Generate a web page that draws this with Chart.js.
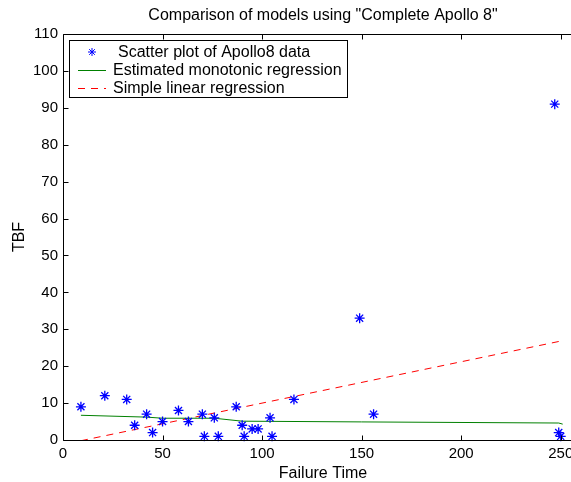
<!DOCTYPE html>
<html lang="en">
<head>
  <meta charset="UTF-8">
  <title>Comparison of models using "Complete Apollo 8"</title>
  <script src="https://cdn.jsdelivr.net/npm/chart.js"></script>
  <style>
    body { margin: 0; padding: 0; background: #fff; }
    #wrap { width: 571px; height: 482px; }
  </style>
</head>
<body>
  <div id="wrap"><canvas id="chart" width="571" height="482"></canvas></div>

  <script>
    // Apollo 8 data
    const failureTime = [9, 21, 32, 36, 42, 45, 50, 58, 63, 70, 71, 76, 78, 87, 90, 91, 95, 98, 104, 105, 116, 149, 156, 247, 249, 250];
    const tbf = [9, 12, 11, 4, 7, 2, 5, 8, 5, 7, 1, 6, 1, 9, 4, 1, 3, 3, 6, 1, 11, 33, 7, 91, 2, 1];

    // monotonic regression estimate
    const monoX = [9, 42, 50, 76, 90, 150, 249, 251];
    const monoY = [6.7, 6.2, 5.9, 5.9, 5.1, 4.9, 4.6, 4.3];

    // simple linear regression
    const linX = [9, 250];
    const linY = [-0.2, 26.8];

    const xTicks = [0, 50, 100, 150, 200, 250];
    const yTicks = [0, 10, 20, 30, 40, 50, 60, 70, 80, 90, 100, 110];

    const FONT = 'Arial, "Liberation Sans", sans-serif';
    const CENTER_X = 323; // the axes run past the right edge of the picture

    const toXY = (xs, ys) => xs.map((x, i) => ({ x: x, y: ys[i] }));

    const matlabFrame = {
      id: 'matlabFrame',
      afterDraw(chart) {
        const ctx = chart.ctx;
        const a = chart.chartArea;
        const sx = chart.scales.x, sy = chart.scales.y;
        ctx.save();
        ctx.strokeStyle = '#000';
        ctx.lineWidth = 1;
        const L = Math.round(a.left) + 0.5, T = Math.round(a.top) + 0.5, B = Math.round(a.bottom) + 0.5;
        ctx.beginPath();
        ctx.moveTo(L, T); ctx.lineTo(chart.width, T);
        ctx.moveTo(L, T); ctx.lineTo(L, B); ctx.lineTo(chart.width, B);
        // inner ticks
        xTicks.forEach(v => {
          const px = Math.round(sx.getPixelForValue(v)) + 0.5;
          ctx.moveTo(px, B); ctx.lineTo(px, B - 5);
          ctx.moveTo(px, T); ctx.lineTo(px, T + 5);
        });
        yTicks.forEach(v => {
          const py = Math.round(sy.getPixelForValue(v)) + 0.5;
          ctx.moveTo(L, py); ctx.lineTo(L + 5, py);
        });
        ctx.stroke();

        // title and axis titles
        ctx.fillStyle = '#000';
        ctx.font = '16px ' + FONT;
        ctx.textAlign = 'center';
        ctx.textBaseline = 'middle';
        ctx.fillText('Comparison of models using "Complete Apollo 8"', CENTER_X, 16);
        ctx.fillText('Failure Time', CENTER_X, 474);
        ctx.save();
        ctx.translate(20, (a.top + a.bottom) / 2);
        ctx.rotate(-Math.PI / 2);
        ctx.fillText('TBF', 0, 0);
        ctx.restore();

        // legend box
        const lx = 69.5, ly = 40.5, lw = 278, lh = 57;
        ctx.fillStyle = '#fff';
        ctx.fillRect(lx, ly, lw, lh);
        ctx.strokeRect(lx, ly, lw, lh);
        ctx.font = '16px ' + FONT;
        ctx.textAlign = 'left';
        ctx.fillStyle = '#000';
        const rows = [52, 70, 88];
        // star marker
        ctx.strokeStyle = '#0000ff';
        ctx.beginPath();
        const cx = 92, cy = rows[0], r = 4;
        for (let k = 0; k < 4; k++) {
          const ang = k * Math.PI / 4;
          ctx.moveTo(cx - r * Math.cos(ang), cy - r * Math.sin(ang));
          ctx.lineTo(cx + r * Math.cos(ang), cy + r * Math.sin(ang));
        }
        ctx.stroke();
        ctx.fillText('Scatter plot of Apollo8 data', 118, rows[0] + 1);
        ctx.strokeStyle = '#008000';
        ctx.beginPath(); ctx.moveTo(78, rows[1] + 0.5); ctx.lineTo(106, rows[1] + 0.5); ctx.stroke();
        ctx.fillText('Estimated monotonic regression', 113, rows[1] + 1);
        ctx.strokeStyle = '#ff0000';
        ctx.setLineDash([7, 6]);
        ctx.beginPath(); ctx.moveTo(78, rows[2] + 0.5); ctx.lineTo(106, rows[2] + 0.5); ctx.stroke();
        ctx.setLineDash([]);
        ctx.fillText('Simple linear regression', 113, rows[2] + 1);
        ctx.restore();
      }
    };

    new Chart(document.getElementById('chart'), {
      type: 'scatter',
      data: {
        datasets: [
          {
            label: 'Scatter plot of Apollo8 data',
            data: toXY(failureTime, tbf),
            pointStyle: 'star',
            pointRadius: 5,
            borderColor: '#0000ff',
            backgroundColor: '#0000ff',
            borderWidth: 1.3,
            showLine: false,
            clip: false
          },
          {
            label: 'Estimated monotonic regression',
            data: toXY(monoX, monoY),
            showLine: true,
            borderColor: '#008000',
            borderWidth: 1,
            pointRadius: 0,
            fill: false,
            clip: false
          },
          {
            label: 'Simple linear regression',
            data: toXY(linX, linY),
            showLine: true,
            borderColor: '#ff0000',
            borderDash: [7, 6],
            borderWidth: 1,
            pointRadius: 0,
            fill: false
          }
        ]
      },
      options: {
        responsive: false,
        animation: false,
        layout: { padding: { left: 0, right: 0, top: 34, bottom: 0 } },
        plugins: {
          legend: { display: false },
          title: { display: false },
          tooltip: { enabled: false }
        },
        scales: {
          x: {
            type: 'linear',
            min: 0, max: 252,
            afterFit: s => { s.height = 42; s.paddingLeft = 0; s.paddingRight = 0; },
            afterBuildTicks: s => { s.ticks = xTicks.map(v => ({ value: v })); },
            grid: { display: false, drawTicks: false },
            border: { display: false },
            ticks: { color: '#000', font: { size: 15, family: FONT }, padding: 5, maxRotation: 0 }
          },
          y: {
            type: 'linear',
            min: 0, max: 110,
            afterFit: s => { s.width = 63; s.paddingTop = 0; s.paddingBottom = 0; },
            afterBuildTicks: s => { s.ticks = yTicks.map(v => ({ value: v })); },
            grid: { display: false, drawTicks: false },
            border: { display: false },
            ticks: { color: '#000', font: { size: 15, family: FONT }, padding: 5 }
          }
        }
      },
      plugins: [matlabFrame]
    });
  </script>
</body>
</html>
